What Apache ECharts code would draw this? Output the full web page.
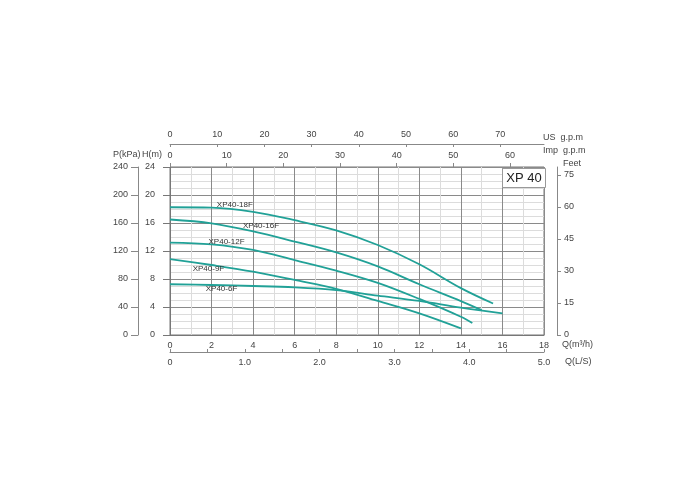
<!DOCTYPE html>
<html><head><meta charset="utf-8">
<script src="https://cdn.jsdelivr.net/npm/echarts@6/dist/echarts.min.js"></script>
<style>html,body{margin:0;padding:0;background:#fff}#c{width:700px;height:500px}</style>
</head><body><div id="c"></div>
<script>
// Flow Q (m3/h), head H (m)
const curveNames = ['XP40-18F','XP40-16F','XP40-12F','XP40-9F','XP40-6F'];
const xp18 = [[0,18.25],[2,18.2],[4,17.6],[6,16.4],[8,14.95],[10,12.86],[12,10.1],[14,6.7],[15.55,4.5]];
const xp16 = [[0,16.5],[2,15.95],[4,14.8],[6,13.35],[8,11.8],[10,9.8],[12,7.25],[14,4.85],[15,3.55]];
const xp12 = [[0,13.2],[2,12.95],[4,12.15],[6,10.7],[8,9.2],[10,7.45],[12,5.15],[14,2.6],[14.55,1.7]];
const xp9  = [[0,10.85],[2,10.0],[4,9.05],[6,7.86],[8,6.6],[10,4.86],[12,3.1],[14,0.95]];
const xp6  = [[0,7.25],[2,7.14],[4,7.0],[6,6.8],[8,6.4],[10,5.62],[12,4.86],[14,3.9],[16,3.1]];
const labelPos = [[3.12,18.6],[4.38,15.6],[2.72,13.35],[1.85,9.45],[2.48,6.67]];
const modelName = 'XP 40';

const qMax = 18, hMax = 24;
const usPerM3h = 4.40287, impPerM3h = 3.66615, ftPerM = 3.28084;
const curves = [xp18, xp16, xp12, xp9, xp6];
const lineColor = '#21a197';
const txt = '#444';
const font = 'Liberation Sans, Arial, sans-serif';

const chart = echarts.init(document.getElementById('c'), null, {renderer:'canvas'});
const series = curves.map((d,i)=>({
  type:'line', name: curveNames[i], data: d, smooth: 0.35, symbol:'none',
  xAxisIndex:0, yAxisIndex:0, z:3,
  lineStyle:{color:lineColor, width:1.8},
  markPoint:{
    symbol:'rect', symbolSize:1, itemStyle:{color:'transparent'},
    label:{show:true, position:'inside', formatter: curveNames[i], color:'#333', fontSize:8, fontFamily:font},
    data:[{coord: labelPos[i]}]
  }
}));

chart.setOption({
  animation:false,
  backgroundColor:'#fff',
  grid:{left:170, right:156, top:167, bottom:165, show:true, borderColor:'#777', borderWidth:1, containLabel:false},
  xAxis:[
    {type:'value', position:'bottom', min:0, max:qMax, interval:2,
     axisLine:{show:true, onZero:false, lineStyle:{color:'#777'}}, axisTick:{show:false},
     axisLabel:{color:txt, fontSize:9, margin:6, fontFamily:font},
     splitLine:{show:true, lineStyle:{color:'#8a8a8a', width:1}},
     minorTick:{show:false, splitNumber:2},
     minorSplitLine:{show:true, lineStyle:{color:'#dcdcdc', width:1}}},
    {type:'value', position:'bottom', offset:17, min:0, max:qMax/3.6, interval:1,
     axisLine:{show:true, onZero:false, lineStyle:{color:'#888'}},
     axisTick:{show:true, inside:true, length:3, lineStyle:{color:'#888'}},
     minorTick:{show:true, splitNumber:2, length:3, lineStyle:{color:'#888'}},
     axisLabel:{color:txt, fontSize:9, margin:6, fontFamily:font, formatter:v=> v===0?'0':v.toFixed(1)},
     splitLine:{show:false}},
    {type:'value', position:'top', offset:0, min:0, max:qMax*impPerM3h, interval:10,
     axisLine:{show:false, onZero:false}, axisTick:{show:true, length:4, lineStyle:{color:'#888'}},
     axisLabel:{color:txt, fontSize:9, margin:7, fontFamily:font, showMaxLabel:false},
     splitLine:{show:false}},
    {type:'value', position:'top', offset:23, min:0, max:qMax*usPerM3h, interval:10,
     axisLine:{show:true, onZero:false, lineStyle:{color:'#888'}}, axisTick:{show:true, inside:true, length:3, lineStyle:{color:'#888'}},
     axisLabel:{color:txt, fontSize:9, margin:5, fontFamily:font, showMaxLabel:false},
     splitLine:{show:false}}
  ],
  yAxis:[
    {type:'value', position:'left', min:0, max:hMax, interval:4,
     axisLine:{show:true, onZero:false, lineStyle:{color:'#777'}},
     axisTick:{show:true, length:7, lineStyle:{color:'#777'}},
     axisLabel:{color:txt, fontSize:9, margin:15, fontFamily:font},
     splitLine:{show:true, lineStyle:{color:'#8a8a8a', width:1}},
     minorSplitLine:{show:true, lineStyle:{color:'#dcdcdc', width:1}},
     minorTick:{show:false, splitNumber:4}},
    {type:'value', position:'left', offset:32, min:0, max:240, interval:40,
     axisLine:{show:true, onZero:false, lineStyle:{color:'#888'}},
     axisTick:{show:true, length:7, lineStyle:{color:'#888'}},
     axisLabel:{color:txt, fontSize:9, margin:10, fontFamily:font},
     splitLine:{show:false}},
    {type:'value', position:'right', offset:13, min:0, max:hMax*ftPerM, interval:15,
     axisLine:{show:true, onZero:false, lineStyle:{color:'#888'}},
     axisTick:{show:true, length:4, lineStyle:{color:'#888'}},
     axisLabel:{color:txt, fontSize:9, margin:7, fontFamily:font, showMaxLabel:false},
     splitLine:{show:false}}
  ],
  series: series,
  graphic:[
    {type:'text', left:113, top:150, style:{text:'P(kPa)', fill:txt, font:'9px '+font}},
    {type:'text', left:142, top:150, style:{text:'H(m)', fill:txt, font:'9px '+font}},
    {type:'text', left:563, top:159, style:{text:'Feet', fill:txt, font:'9px '+font}},
    {type:'text', left:543, top:133, style:{text:'US  g.p.m', fill:txt, font:'9px '+font}},
    {type:'text', left:543, top:146, style:{text:'Imp  g.p.m', fill:txt, font:'9px '+font}},
    {type:'text', left:562, top:340, style:{text:'Q(m³/h)', fill:txt, font:'9px '+font}},
    {type:'text', left:565, top:357, style:{text:'Q(L/S)', fill:txt, font:'9px '+font}},
    {type:'group', left:502, top:168, z:100, children:[
      {type:'rect', z:100, shape:{x:0,y:0,width:43,height:19}, style:{fill:'#fff', stroke:'#999', lineWidth:1}},
      {type:'text', z:101, x:21.5, y:10, style:{text:modelName, fill:'#222', font:'13px '+font, align:'center', verticalAlign:'middle'}}
    ]}
  ]
});
</script></body></html>
